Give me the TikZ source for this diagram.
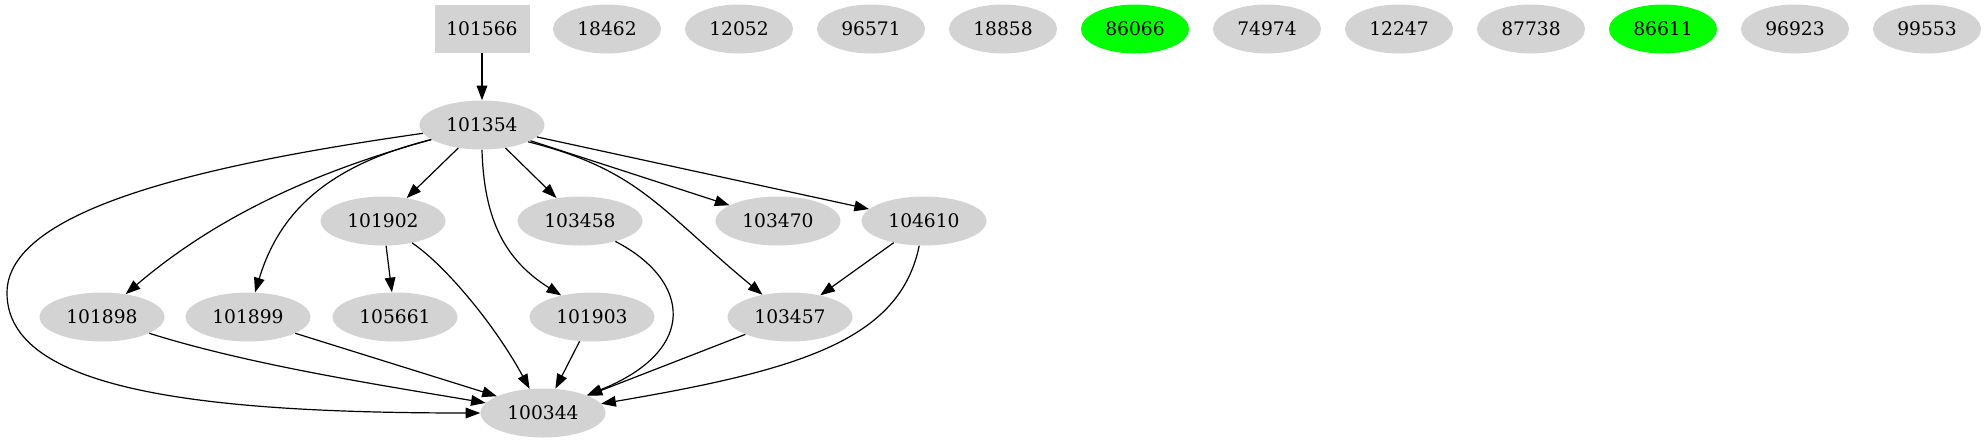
\documentclass[tikz,border=0pt]{standalone}
\usepackage{fontspec}
\setmainfont{DejaVu Serif}
\usepackage{tikz}
\usetikzlibrary{shapes.geometric, arrows.meta}
\definecolor{gvgray}{RGB}{211,211,211}
\definecolor{gvgreen}{RGB}{0,255,0}
\tikzset{
  idnode/.style={ellipse, draw=none, fill=gvgray,
    inner xsep=6.4pt, inner ysep=2pt, minimum height=36.75pt,
    font=\fontsize{14pt}{16pt}\selectfont},
  hitnode/.style={idnode, fill=gvgreen},
  rootbox/.style={rectangle, draw=none, fill=gvgray,
    minimum width=71.25pt, minimum height=36pt, inner sep=0pt,
    font=\fontsize{14pt}{16pt}\selectfont},
  arrow/.style={-{Triangle[length=11pt, width=8pt]}, line width=0.9pt, color=black}
}

\begin{document}
\begin{tikzpicture}[x=0.75pt, y=-0.75pt]
  \useasboundingbox (0,0) rectangle (1986,443);

  % Top row
  \node[rootbox] (n101566) at (482,29) {101566};
  \node[idnode] (n18462) at (607,29) {18462};
  \node[idnode] (n12052) at (739,29) {12052};
  \node[idnode] (n96571) at (871,29) {96571};
  \node[idnode] (n18858) at (1003,29) {18858};
  \node[hitnode] (n86066) at (1135,29) {86066};
  \node[idnode] (n74974) at (1267,29) {74974};
  \node[idnode] (n12247) at (1399,29) {12247};
  \node[idnode] (n87738) at (1531,29) {87738};
  \node[hitnode] (n86611) at (1663,29) {86611};
  \node[idnode] (n96923) at (1795,29) {96923};
  \node[idnode] (n99553) at (1927,29) {99553};

  % Hub
  \node[idnode] (n101354) at (482,125) {101354};

  % Third row
  \node[idnode] (n101902) at (383,221) {101902};
  \node[idnode] (n103458) at (580,221) {103458};
  \node[idnode] (n103470) at (778,221) {103470};
  \node[idnode] (n104610) at (924,221) {104610};

  % Fourth row
  \node[idnode] (n101898) at (102,317) {101898};
  \node[idnode] (n101899) at (248,317) {101899};
  \node[idnode] (n105661) at (395,317) {105661};
  \node[idnode] (n101903) at (592,317) {101903};
  \node[idnode] (n103457) at (790,317) {103457};

  % Sink
  \node[idnode] (n100344) at (543,413) {100344};

  % Edges out of the hub
  \draw[arrow] (n101566) -- (n101354);
  \draw[arrow] (n101354.188) .. controls (200,165) and (7,210) .. (7,293)
    .. controls (7,390) and (200,413) .. (n100344.west);
  \draw[arrow] (n101354.196) .. controls (340,165) and (230,205) .. (n101898.44);
  \draw[arrow] (n101354.196) .. controls (330,165) and (280,210) .. (n101899.74);
  \draw[arrow] (n101354) -- (n101902);
  \draw[arrow] (n101354.270) .. controls (484,220) and (505,260) .. (n101903.145);
  \draw[arrow] (n101354) -- (n103458);
  \draw[arrow] (n101354.340) .. controls (640,170) and (660,210) .. (n103457.141);
  \draw[arrow] (n101354) -- (n103470);
  \draw[arrow] (n101354) -- (n104610);

  % Edges into the sink
  \draw[arrow] (n101902) -- (n105661);
  \draw[arrow] (n101902.323) .. controls (445,265) and (495,325) .. (n100344.119);
  \draw[arrow] (n103458.330) .. controls (690,280) and (700,350) .. (n100344.22);
  \draw[arrow] (n101898.341) .. controls (250,365) and (380,385) .. (n100344.170);
  \draw[arrow] (n101899.341) -- (n100344.160);
  \draw[arrow] (n101903) -- (n100344);
  \draw[arrow] (n103457) -- (n100344);
  \draw[arrow] (n104610) -- (n103457);
  \draw[arrow] (n104610.259) .. controls (900,340) and (800,370) .. (n100344.9);
\end{tikzpicture}
\end{document}
